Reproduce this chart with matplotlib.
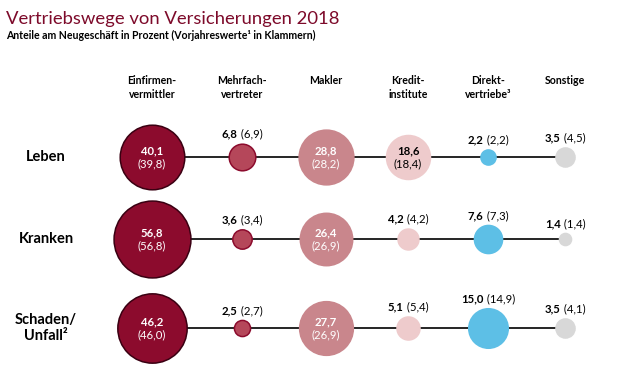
import numpy as np
import matplotlib.pyplot as plt

plt.rcParams['font.family'] = ['Lato', 'DejaVu Sans']

# Vertriebswege - Anteile am Neugeschaeft 2018 (Vorjahr in Klammern)
channels = ['Einfirmen-\nvermittler', 'Mehrfach-\nvertreter', 'Makler',
            'Kredit-\ninstitute', 'Direkt-\nvertriebe³', 'Sonstige']
lines = ['Leben', 'Kranken', 'Schaden/\nUnfall²']
share_2018 = [[40.1, 6.8, 28.8, 18.6, 2.2, 3.5],
              [56.8, 3.6, 26.4, 4.2, 7.6, 1.4],
              [46.2, 2.5, 27.7, 5.1, 15.0, 3.5]]
share_2017 = [[39.8, 6.9, 28.2, 18.4, 2.2, 4.5],
              [56.8, 3.4, 26.9, 4.2, 7.3, 1.4],
              [46.0, 2.7, 26.9, 5.4, 14.9, 4.1]]

fills = ['#8c0b2d', '#b5475a', '#c9868c', '#eecbcc', '#5dbfe6', '#d8d8d8']
edges = ['#3a0012', '#8c0b2d', '#c9868c', '#eecbcc', '#5dbfe6', '#d8d8d8']
inner_col = ['white', 'white', 'white', 'black', 'black', 'black']

col_x = [152, 242, 326, 408, 488, 565]
row_y = [157, 239, 328]
k = 5.1  # pixel radius per sqrt(percent)


def fmt(v):
    return f"{v:.1f}".replace('.', ',')


fig = plt.figure(figsize=(6.21, 3.83), dpi=100)
ax = fig.add_axes([0, 0, 1, 1])
ax.set_xlim(0, 621)
ax.set_ylim(383, 0)
ax.axis('off')

fig.text(6 / 621, 1 - 19 / 383, 'Vertriebswege von Versicherungen 2018',
         fontsize=13.3, color='#7d0a2a', va='center', ha='left')
fig.text(6 / 621, 1 - 35 / 383,
         'Anteile am Neugeschäft in Prozent (Vorjahreswerte¹ in Klammern)',
         fontsize=7.6, fontweight='bold', va='center', ha='left')

for x, name in zip(col_x, channels):
    ax.text(x, 75, name, ha='center', va='top', fontsize=7.6,
            fontweight='bold', linespacing=1.35)

renderer = fig.canvas.get_renderer()

for i, (y, name) in enumerate(zip(row_y, lines)):
    ax.text(46, y, name, ha='center', va='center', fontsize=10.5,
            fontweight='bold', linespacing=1.25)
    ax.plot([col_x[0], col_x[-1]], [y, y], color='black', lw=1.2, zorder=1)
    for j, x in enumerate(col_x):
        v, prev = share_2018[i][j], share_2017[i][j]
        r = k * np.sqrt(v)
        size = (2 * r * 0.72) ** 2
        ax.scatter([x], [y], s=size, color=fills[j], edgecolors=edges[j],
                   linewidths=1.1, zorder=2)
        if v >= 18:
            ax.text(x, y - 6, fmt(v), ha='center', va='center', fontsize=8.2,
                    fontweight='bold', color=inner_col[j], zorder=3)
            ax.text(x, y + 7, f"({fmt(prev)})", ha='center', va='center',
                    fontsize=8.2, color=inner_col[j], zorder=3)
        else:
            ty = y - r - 4
            t1 = ax.text(0, ty, fmt(v), ha='left', va='bottom', fontsize=8.2,
                         fontweight='bold')
            t2 = ax.text(0, ty, f" ({fmt(prev)})", ha='left', va='bottom',
                         fontsize=8.2)
            w1 = t1.get_window_extent(renderer).width
            w2 = t2.get_window_extent(renderer).width
            x0 = x - (w1 + w2) / 2
            t1.set_x(x0)
            t2.set_x(x0 + w1)

fig.savefig('out.png', dpi=100)
